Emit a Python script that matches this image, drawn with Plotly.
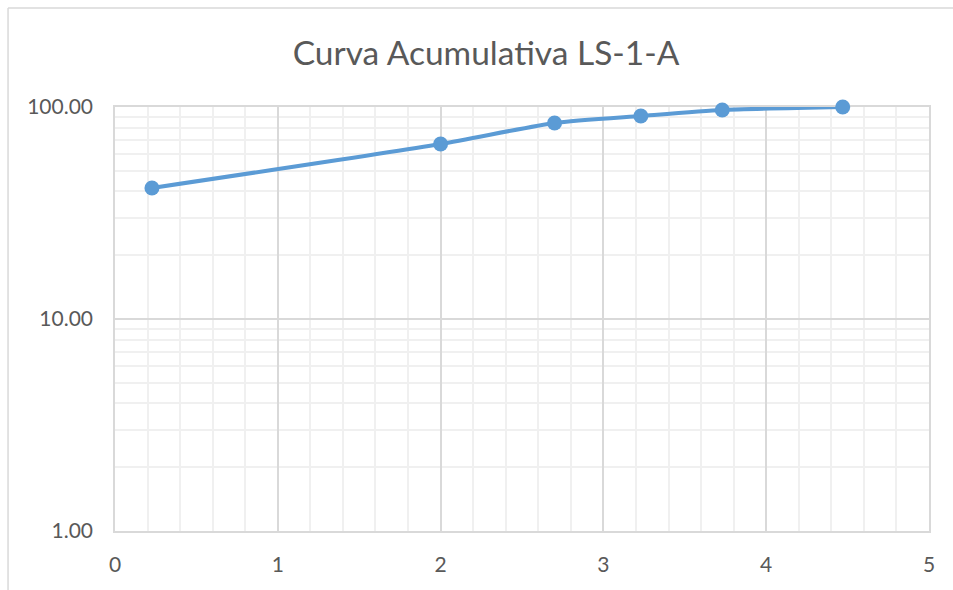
import plotly.graph_objects as go

# Cumulative curve data
x_vals = [0.227, 2.0, 2.70, 3.23, 3.73, 4.47]
y_vals = [41.5, 66.9, 84.1, 90.7, 96.8, 100.0]

title_text = "Curva Acumulativa LS-1-A"
x_ticks = [0, 1, 2, 3, 4, 5]
y_ticks = [1, 10, 100]
y_tick_labels = ["1.00", "10.00", "100.00"]

blue = "#5B9BD5"
text_color = "#595959"
major_grid = "#D9D9D9"
minor_grid = "#F0F0F0"

fig = go.Figure()
fig.add_trace(go.Scatter(
    x=x_vals, y=y_vals,
    mode="lines+markers",
    line=dict(color=blue, width=4, shape="spline", smoothing=0.6),
    marker=dict(color=blue, size=15),
    cliponaxis=False,
    showlegend=False,
))

fig.update_layout(
    width=953, height=590,
    margin=dict(l=115, r=24, t=107, b=59),
    paper_bgcolor="white",
    plot_bgcolor="white",
    font=dict(family="Lato", color=text_color),
    title=dict(text=title_text, x=0.51, xanchor="center", y=0.91, yanchor="middle",
               font=dict(family="Lato", size=33.5, color=text_color)),
    xaxis=dict(
        range=[0, 5], tickvals=x_ticks, ticktext=[str(v) for v in x_ticks],
        showgrid=True, gridcolor=major_grid, gridwidth=1.5,
        minor=dict(dtick=0.2, showgrid=True, gridcolor=minor_grid, gridwidth=1.5),
        zeroline=False, showline=True, linecolor=major_grid, linewidth=1.5, mirror=True,
        tickfont=dict(family="Lato", size=21, color=text_color), ticks="", ticklen=0,
        ticklabelstandoff=14, layer="below traces",
    ),
    yaxis=dict(
        type="log", range=[0, 2], tickvals=y_ticks, ticktext=y_tick_labels,
        showgrid=True, gridcolor=major_grid, gridwidth=1.5,
        minor=dict(dtick="D1", showgrid=True, gridcolor=minor_grid, gridwidth=1.5),
        zeroline=False, showline=True, linecolor=major_grid, linewidth=1.5, mirror=True,
        tickfont=dict(family="Lato", size=21, color=text_color), ticks="", ticklen=0,
        ticklabelstandoff=16, layer="below traces",
    ),
    shapes=[
        # outer chart frame (left and top edges visible)
        dict(type="line", xref="paper", yref="paper", x0=-0.1314, x1=-0.1314,
             y0=1.2335, y1=-0.2, line=dict(color="#D9D9D9", width=1.5)),
        dict(type="line", xref="paper", yref="paper", x0=-0.1314, x1=1.05,
             y0=1.2335, y1=1.2335, line=dict(color="#D9D9D9", width=1.5)),
    ],
)

fig.write_html("out.html")
